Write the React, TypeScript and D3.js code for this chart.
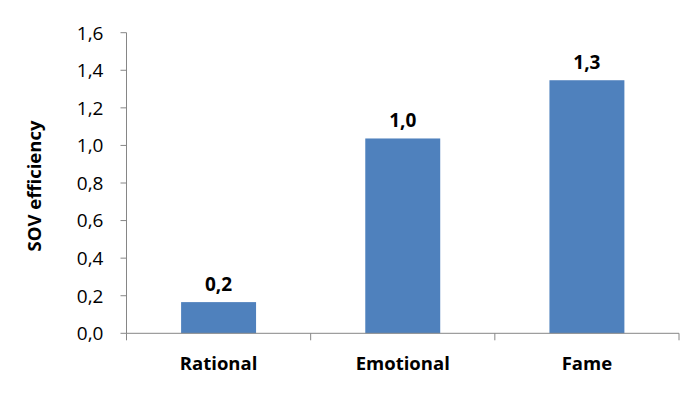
import React from "react";
import * as d3 from "d3";

const categories = ["Rational", "Emotional", "Fame"];
const values = [0.166, 1.037, 1.347];
const valueLabels = ["0,2", "1,0", "1,3"];
const yTicks = [0, 0.2, 0.4, 0.6, 0.8, 1.0, 1.2, 1.4, 1.6];
const yTitle = "SOV efficiency";

const W = 700;
const H = 398;
const left = 126.5;
const right = 679;
const top = 32.7;
const bottom = 333.3;
const font = "'Open Sans', 'Liberation Sans', sans-serif";

export default function App() {
  const x = d3.scaleBand<string>().domain(categories).range([left, right]).paddingInner(0.593).paddingOuter(0.2965);
  const y = d3.scaleLinear().domain([0, 1.6]).range([bottom, top]);
  const fmt = (v: number) => v.toFixed(1).replace(".", ",");
  const axisColor = "#868686";
  const band = (right - left) / categories.length;
  return (
    <svg width={W} height={H} style={{ position: "absolute", left: 0, top: 0, background: "#fff" }}>
      {values.map((v, i) => (
        <rect key={i} x={x(categories[i])} y={y(v)} width={x.bandwidth()} height={y(0) - y(v)} fill="#4F81BD" />
      ))}
      <line x1={left} x2={left} y1={top} y2={bottom} stroke={axisColor} strokeWidth={1} />
      {yTicks.map((t) => (
        <g key={t}>
          <line x1={left - 6} x2={left} y1={y(t)} y2={y(t)} stroke={axisColor} />
          <text x={left - 23} y={y(t)} dy="0.36em" textAnchor="end" fontFamily={font} fontSize={19} fill="#000">
            {fmt(t)}
          </text>
        </g>
      ))}
      <line x1={left} x2={right} y1={bottom} y2={bottom} stroke={axisColor} />
      {d3.range(categories.length + 1).map((i) => (
        <line key={i} x1={left + band * i} x2={left + band * i} y1={bottom} y2={bottom + 7} stroke={axisColor} />
      ))}
      {categories.map((c, i) => (
        <text key={c} x={x(c)! + x.bandwidth() / 2} y={369.5} textAnchor="middle" fontFamily={font} fontWeight="bold" fontSize={18.5} fill="#000">
          {c}
        </text>
      ))}
      {values.map((v, i) => (
        <text key={i} x={x(categories[i])! + x.bandwidth() / 2} y={y(v) - 11.5} textAnchor="middle" fontFamily={font} fontWeight="bold" fontSize={19} fill="#000">
          {valueLabels[i]}
        </text>
      ))}
      <text transform={`translate(41,186) rotate(-90)`} textAnchor="middle" fontFamily={font} fontWeight="bold" fontSize={18.5} fill="#000">
        {yTitle}
      </text>
    </svg>
  );
}
